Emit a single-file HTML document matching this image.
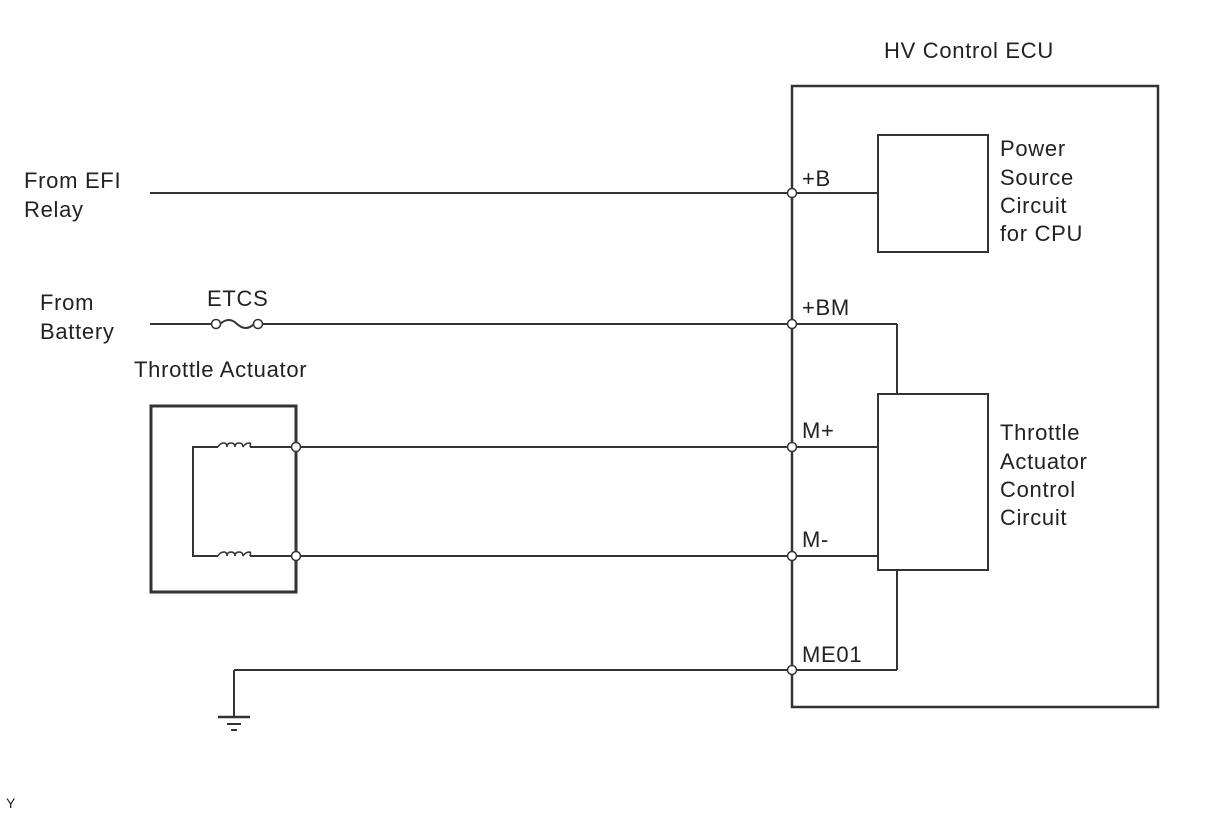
<!DOCTYPE html>
<html><head><style>
body{margin:0;background:#fff;}
svg text{font-family:"Liberation Sans",sans-serif;font-size:22px;letter-spacing:0.7px;fill:#222;}
</style></head><body>
<svg width="1210" height="814" viewBox="0 0 1210 814" xmlns="http://www.w3.org/2000/svg">
<g stroke="#333" stroke-width="2" fill="none">
<rect x="792" y="86" width="366" height="621" stroke-width="2.5"/>
<rect x="878" y="135" width="110" height="117"/>
<rect x="878" y="394" width="110" height="176"/>
<rect x="151" y="406" width="145" height="186" stroke-width="3"/>
<line x1="150" y1="193" x2="878" y2="193"/>
<line x1="150" y1="324" x2="212" y2="324"/>
<line x1="262" y1="324" x2="897" y2="324"/>
<line x1="897" y1="324" x2="897" y2="394"/>
<path d="M220 324 q9 -8 17 0 q9 8 17 0"/>
<line x1="296" y1="447" x2="878" y2="447"/>
<line x1="296" y1="556" x2="878" y2="556"/>
<line x1="234" y1="670" x2="897" y2="670"/>
<line x1="897" y1="670" x2="897" y2="570"/>
<line x1="234" y1="670" x2="234" y2="717"/>
<line x1="218" y1="717" x2="250" y2="717" stroke-width="2.5"/>
<line x1="227" y1="724" x2="241" y2="724"/>
<line x1="231" y1="730" x2="237" y2="730"/>
<polyline points="218,447 193,447 193,556 218,556"/>
<line x1="250" y1="447" x2="296" y2="447"/>
<line x1="250" y1="556" x2="296" y2="556"/>
<path d="M218 447 q2 -4 6 -4 q3 0 3 4 q0 -4 4 -4 q4 0 4 4 q0 -4 4 -4 q4 0 4 4 q2 -4 7 -4 q1 0 0 4" stroke-width="1.5"/>
<path d="M218 556 q2 -4 6 -4 q3 0 3 4 q0 -4 4 -4 q4 0 4 4 q0 -4 4 -4 q4 0 4 4 q2 -4 7 -4 q1 0 0 4" stroke-width="1.5"/>
</g>
<g stroke="#333" stroke-width="1.5" fill="#fff">
<circle cx="216" cy="324" r="4.5"/><circle cx="258" cy="324" r="4.5"/>
<circle cx="792" cy="193" r="4.5"/><circle cx="792" cy="324" r="4.5"/>
<circle cx="792" cy="447" r="4.5"/><circle cx="792" cy="556" r="4.5"/>
<circle cx="792" cy="670" r="4.5"/>
<circle cx="296" cy="447" r="4.5"/><circle cx="296" cy="556" r="4.5"/>
</g>
<text x="884" y="58">HV Control ECU</text>
<text x="24" y="188">From EFI</text>
<text x="24" y="217">Relay</text>
<text x="40" y="310">From</text>
<text x="40" y="339">Battery</text>
<text x="207" y="306">ETCS</text>
<text x="134" y="377">Throttle Actuator</text>
<text x="802" y="186">+B</text>
<text x="802" y="315">+BM</text>
<text x="802" y="438">M+</text>
<text x="802" y="547">M-</text>
<text x="802" y="662">ME01</text>
<text x="1000" y="156">Power</text>
<text x="1000" y="185">Source</text>
<text x="1000" y="213">Circuit</text>
<text x="1000" y="241">for CPU</text>
<text x="1000" y="440">Throttle</text>
<text x="1000" y="469">Actuator</text>
<text x="1000" y="497">Control</text>
<text x="1000" y="525">Circuit</text>
<text x="6" y="808" style="font-size:14px;letter-spacing:0">Y</text>
</svg>
</body></html>
